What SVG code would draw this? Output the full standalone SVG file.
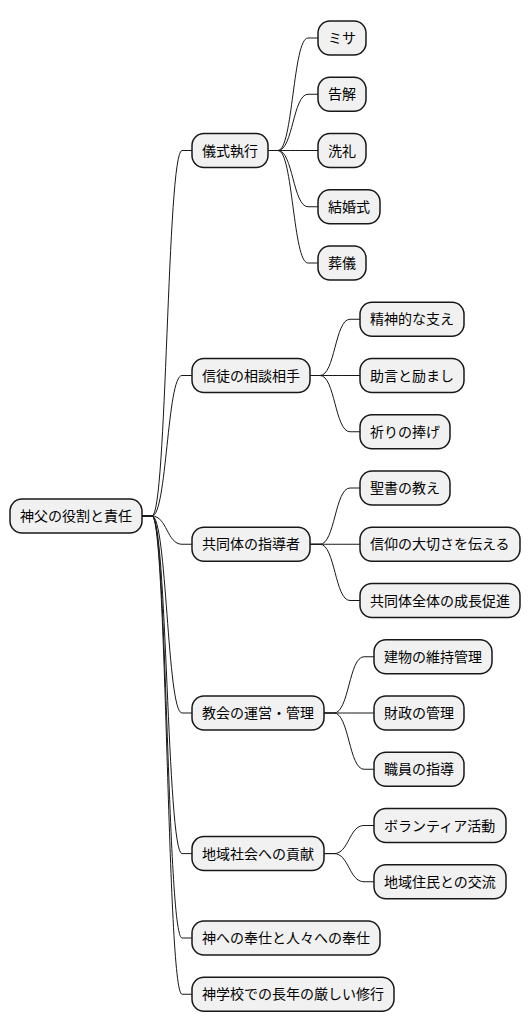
<svg xmlns="http://www.w3.org/2000/svg" width="530" height="1034" viewBox="0 0 530 1034">
<style>
.n rect{fill:#F1F1F1;stroke:#181818;stroke-width:1.5}
.n text{font-family:"Noto Sans CJK JP","Noto Sans",sans-serif;font-size:14px;fill:#000}
#edges path{fill:none;stroke:#181818;stroke-width:1}
</style>
<rect width="530" height="1034" fill="#FFFFFF"/>
<g id="edges">
<path d="M142,516 H152 C167,516 167,150.5 182,150.5 H192"/>
<path d="M142,516 H152 C167,516 167,375.5 182,375.5 H192"/>
<path d="M142,516 H152 C167,516 167,544.25 182,544.25 H192"/>
<path d="M142,516 H152 C167,516 167,713 182,713 H192"/>
<path d="M142,516 H152 C167,516 167,853.6 182,853.6 H192"/>
<path d="M142,516 H152 C167,516 167,938 182,938 H192"/>
<path d="M142,516 H152 C167,516 167,994.25 182,994.25 H192"/>
<path d="M268,150.5 H278 C293,150.5 293,38 308,38 H318"/>
<path d="M268,150.5 H278 C293,150.5 293,94.25 308,94.25 H318"/>
<path d="M268,150.5 H278 C293,150.5 293,150.5 308,150.5 H318"/>
<path d="M268,150.5 H278 C293,150.5 293,206.75 308,206.75 H318"/>
<path d="M268,150.5 H278 C293,150.5 293,263 308,263 H318"/>
<path d="M310,375.5 H320 C335,375.5 335,319.25 350,319.25 H360"/>
<path d="M310,375.5 H320 C335,375.5 335,375.5 350,375.5 H360"/>
<path d="M310,375.5 H320 C335,375.5 335,431.75 350,431.75 H360"/>
<path d="M310,544.25 H320 C335,544.25 335,488 350,488 H360"/>
<path d="M310,544.25 H320 C335,544.25 335,544.25 350,544.25 H360"/>
<path d="M310,544.25 H320 C335,544.25 335,600.5 350,600.5 H360"/>
<path d="M324,713 H334 C349,713 349,656.75 364,656.75 H374"/>
<path d="M324,713 H334 C349,713 349,713 364,713 H374"/>
<path d="M324,713 H334 C349,713 349,769.25 364,769.25 H374"/>
<path d="M324,853.6 H334 C349,853.6 349,825.5 364,825.5 H374"/>
<path d="M324,853.6 H334 C349,853.6 349,881.75 364,881.75 H374"/>
</g>
<g id="root" class="n"><rect x="10" y="499" width="132" height="34" rx="12"/><text x="20" y="521">神父の役割と責任</text></g>
<g id="n1" class="n"><rect x="192" y="133.5" width="76" height="34" rx="12"/><text x="202" y="155.5">儀式執行</text></g>
<g id="n1a" class="n"><rect x="318" y="21" width="48" height="34" rx="12"/><text x="328" y="43">ミサ</text></g>
<g id="n1b" class="n"><rect x="318" y="77.25" width="48" height="34" rx="12"/><text x="328" y="99.25">告解</text></g>
<g id="n1c" class="n"><rect x="318" y="133.5" width="48" height="34" rx="12"/><text x="328" y="155.5">洗礼</text></g>
<g id="n1d" class="n"><rect x="318" y="189.75" width="62" height="34" rx="12"/><text x="328" y="211.75">結婚式</text></g>
<g id="n1e" class="n"><rect x="318" y="246" width="48" height="34" rx="12"/><text x="328" y="268">葬儀</text></g>
<g id="n2" class="n"><rect x="192" y="358.5" width="118" height="34" rx="12"/><text x="202" y="380.5">信徒の相談相手</text></g>
<g id="n2a" class="n"><rect x="360" y="302.25" width="104" height="34" rx="12"/><text x="370" y="324.25">精神的な支え</text></g>
<g id="n2b" class="n"><rect x="360" y="358.5" width="104" height="34" rx="12"/><text x="370" y="380.5">助言と励まし</text></g>
<g id="n2c" class="n"><rect x="360" y="414.75" width="90" height="34" rx="12"/><text x="370" y="436.75">祈りの捧げ</text></g>
<g id="n3" class="n"><rect x="192" y="527.25" width="118" height="34" rx="12"/><text x="202" y="549.25">共同体の指導者</text></g>
<g id="n3a" class="n"><rect x="360" y="471" width="90" height="34" rx="12"/><text x="370" y="493">聖書の教え</text></g>
<g id="n3b" class="n"><rect x="360" y="527.25" width="160" height="34" rx="12"/><text x="370" y="549.25">信仰の大切さを伝える</text></g>
<g id="n3c" class="n"><rect x="360" y="583.5" width="160" height="34" rx="12"/><text x="370" y="605.5">共同体全体の成長促進</text></g>
<g id="n4" class="n"><rect x="192" y="696" width="132" height="34" rx="12"/><text x="202" y="718">教会の運営・管理</text></g>
<g id="n4a" class="n"><rect x="374" y="639.75" width="118" height="34" rx="12"/><text x="384" y="661.75">建物の維持管理</text></g>
<g id="n4b" class="n"><rect x="374" y="696" width="90" height="34" rx="12"/><text x="384" y="718">財政の管理</text></g>
<g id="n4c" class="n"><rect x="374" y="752.25" width="90" height="34" rx="12"/><text x="384" y="774.25">職員の指導</text></g>
<g id="n5" class="n"><rect x="192" y="836.6" width="132" height="34" rx="12"/><text x="202" y="858.6">地域社会への貢献</text></g>
<g id="n5a" class="n"><rect x="374" y="808.5" width="132" height="34" rx="12"/><text x="384" y="830.5">ボランティア活動</text></g>
<g id="n5b" class="n"><rect x="374" y="864.75" width="132" height="34" rx="12"/><text x="384" y="886.75">地域住民との交流</text></g>
<g id="n6" class="n"><rect x="192" y="921" width="188" height="34" rx="12"/><text x="202" y="943">神への奉仕と人々への奉仕</text></g>
<g id="n7" class="n"><rect x="192" y="977.25" width="202" height="34" rx="12"/><text x="202" y="999.25">神学校での長年の厳しい修行</text></g>
</svg>
